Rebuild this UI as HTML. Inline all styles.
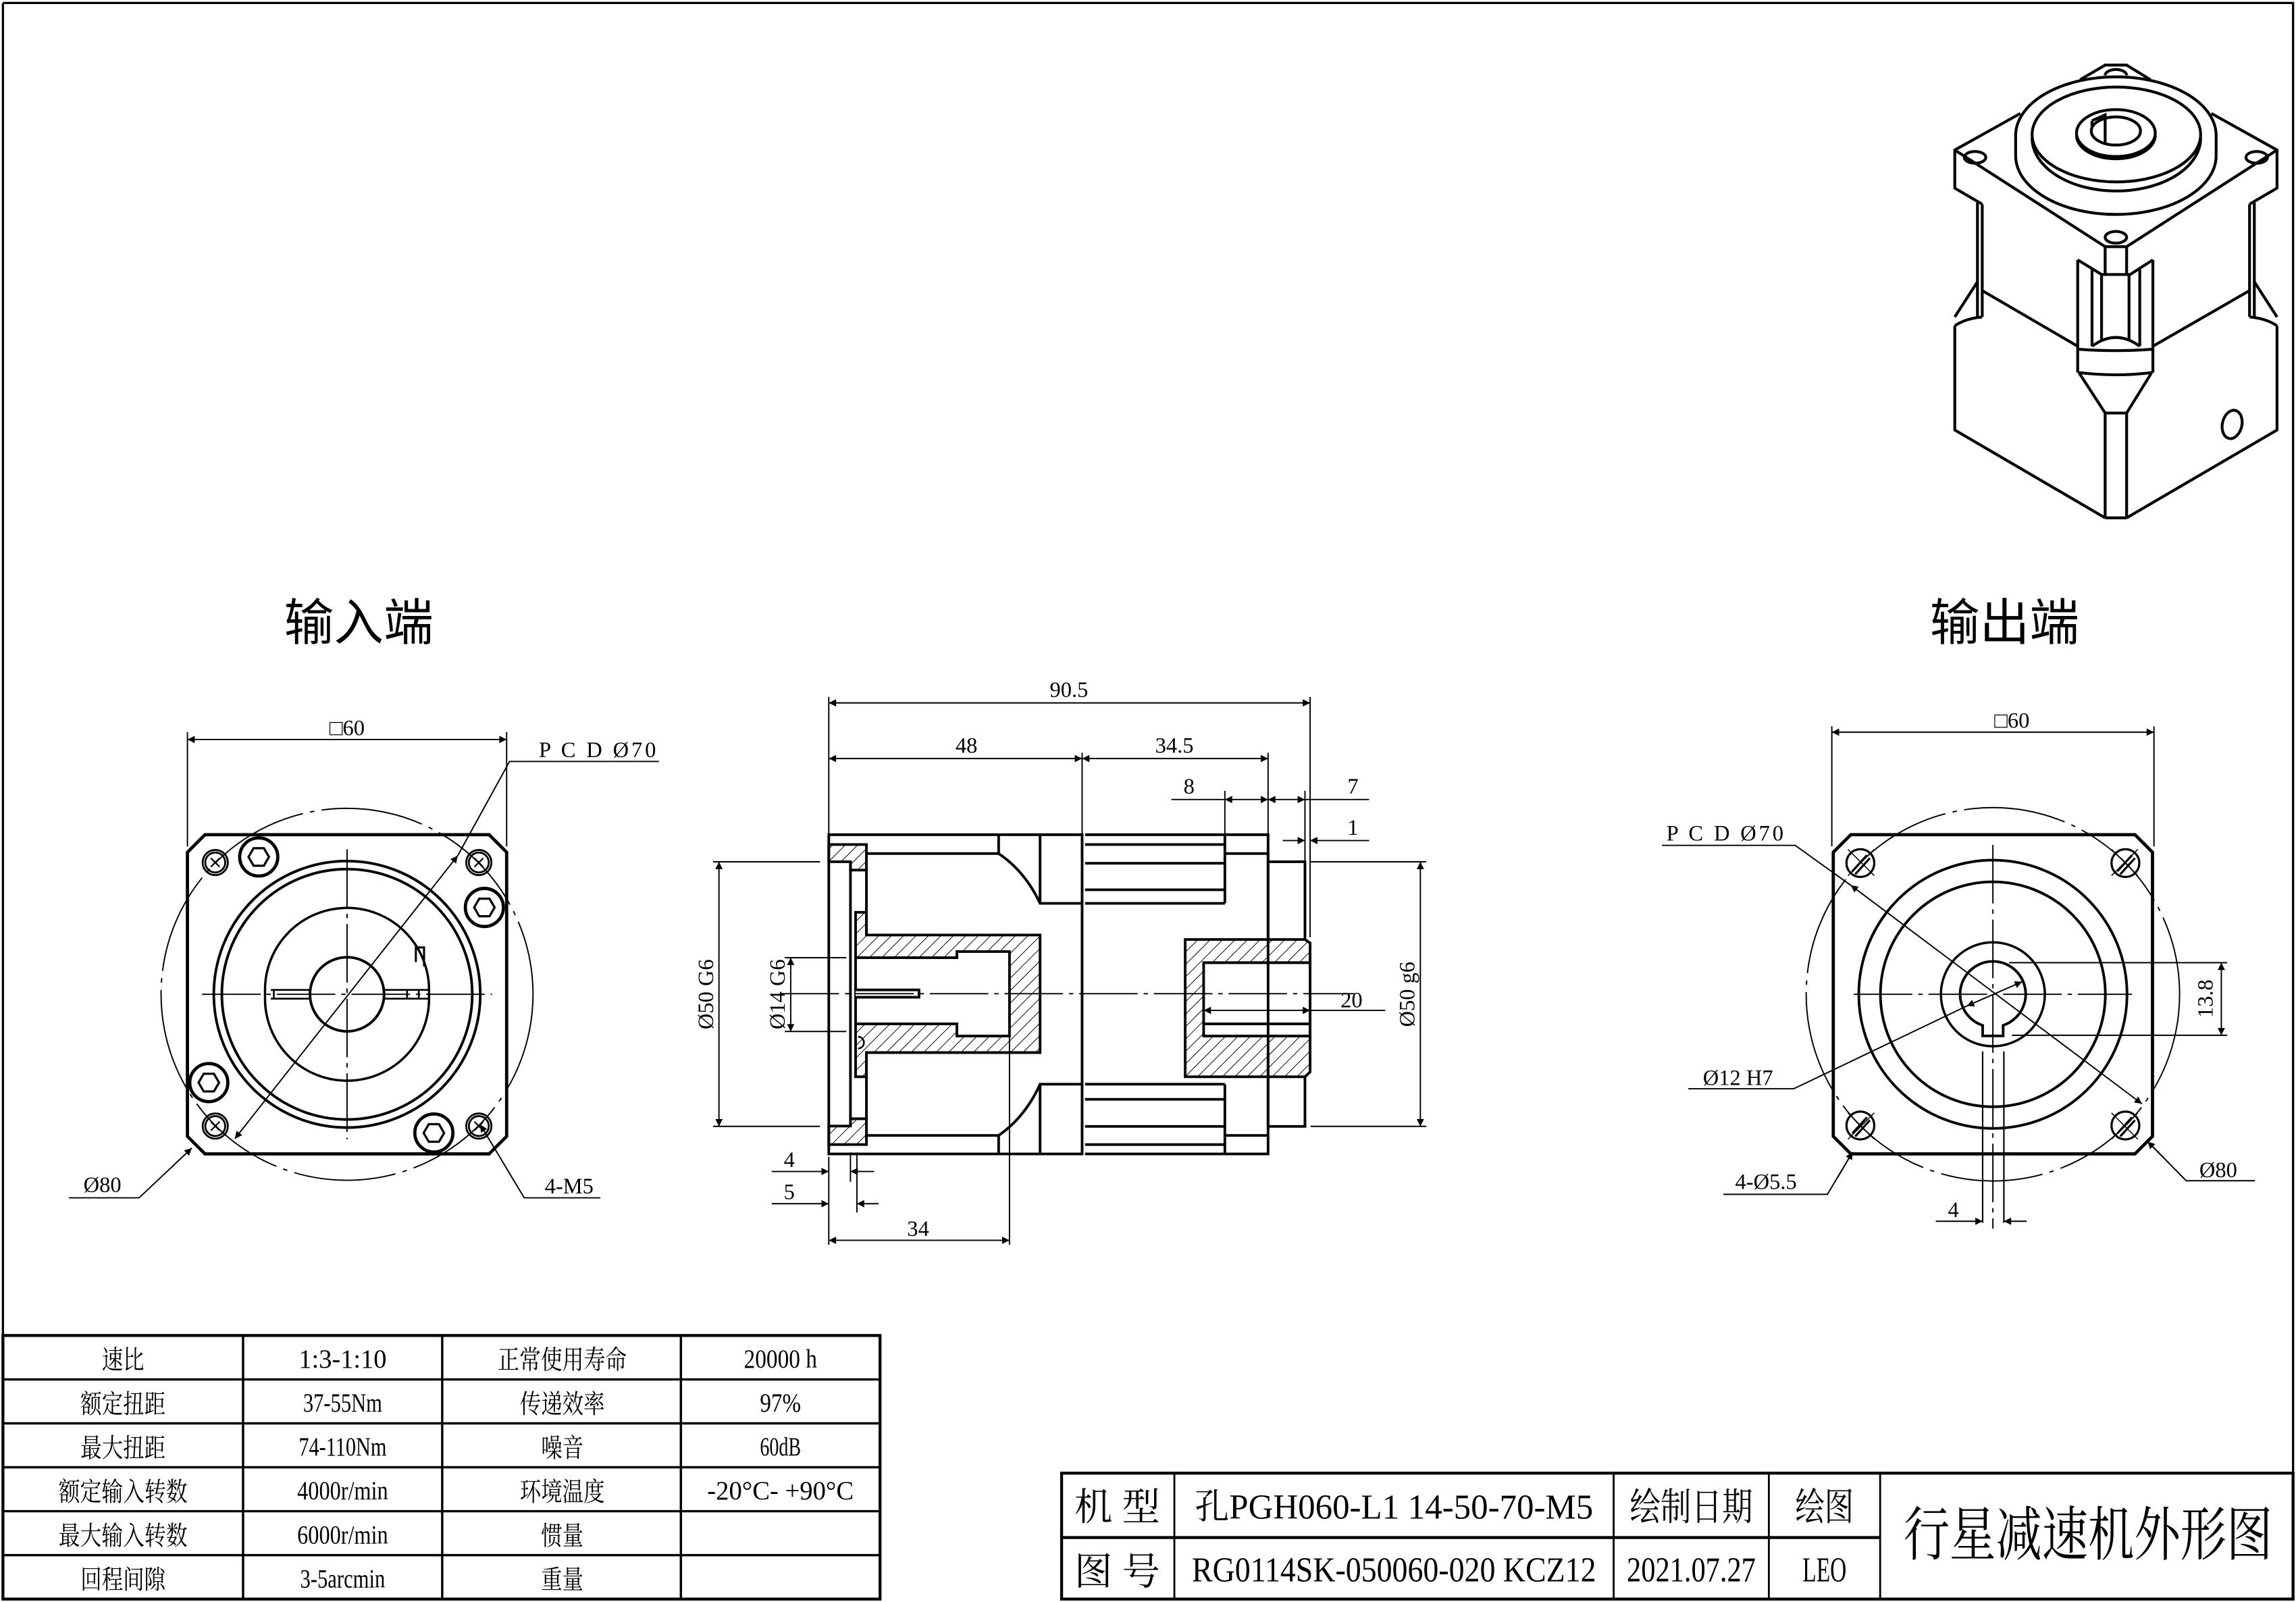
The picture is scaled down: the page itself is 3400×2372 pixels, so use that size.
<!DOCTYPE html>
<html><head><meta charset="utf-8"><style>
html,body{margin:0;padding:0;background:#fff;}
svg{display:block;}
text{font-family:"Liberation Serif","Noto Serif CJK SC","Noto Sans CJK SC",serif;fill:#000;}
.cn{font-family:"Liberation Sans","Noto Sans CJK SC",sans-serif;}
</style></head><body>
<svg width="3400" height="2372" viewBox="0 0 1568 1094" preserveAspectRatio="none" xmlns="http://www.w3.org/2000/svg">
<defs>
<marker id="a" viewBox="0 0 10 10" refX="10" refY="5" markerWidth="12" markerHeight="5" orient="auto-start-reverse" markerUnits="userSpaceOnUse"><path d="M0,0 L10,5 L0,10 z" fill="#000"/></marker>
<pattern id="h" width="6" height="6" patternUnits="userSpaceOnUse" patternTransform="rotate(45)"><line x1="0" y1="0" x2="0" y2="6" stroke="#000" stroke-width="0.9"/></pattern>
</defs>
<rect width="1568" height="1094" fill="#fff"/>
<polyline points="2,2 1566,2 1566,1092" fill="none" stroke="#000" stroke-width="1.5"/>
<line x1="2" y1="2" x2="2" y2="912" stroke="#000" stroke-width="1.5"/>

<!-- spec table -->
<g stroke="#000" fill="none">
<rect x="2" y="912" width="599" height="180" stroke-width="2"/>
<g stroke-width="1.6">
<line x1="2" y1="942" x2="601" y2="942"/><line x1="2" y1="972" x2="601" y2="972"/><line x1="2" y1="1002" x2="601" y2="1002"/><line x1="2" y1="1032" x2="601" y2="1032"/><line x1="2" y1="1062" x2="601" y2="1062"/>
<line x1="166" y1="912" x2="166" y2="1092"/><line x1="302" y1="912" x2="302" y2="1092"/><line x1="465" y1="912" x2="465" y2="1092"/>
</g></g>
<g class="cn" font-size="18" text-anchor="middle">
<text x="84" y="935" textLength="29" lengthAdjust="spacingAndGlyphs">速比</text>
<text x="84" y="965" textLength="58" lengthAdjust="spacingAndGlyphs">额定扭距</text>
<text x="84" y="995" textLength="58" lengthAdjust="spacingAndGlyphs">最大扭距</text>
<text x="84" y="1025" textLength="88" lengthAdjust="spacingAndGlyphs">额定输入转数</text>
<text x="84" y="1055" textLength="88" lengthAdjust="spacingAndGlyphs">最大输入转数</text>
<text x="84" y="1085" textLength="58" lengthAdjust="spacingAndGlyphs">回程间隙</text>
<text x="234" y="934" textLength="60" lengthAdjust="spacingAndGlyphs">1:3-1:10</text>
<text x="234" y="964" textLength="54" lengthAdjust="spacingAndGlyphs">37-55Nm</text>
<text x="234" y="994" textLength="60" lengthAdjust="spacingAndGlyphs">74-110Nm</text>
<text x="234" y="1024" textLength="62" lengthAdjust="spacingAndGlyphs">4000r/min</text>
<text x="234" y="1054" textLength="62" lengthAdjust="spacingAndGlyphs">6000r/min</text>
<text x="234" y="1084" textLength="58" lengthAdjust="spacingAndGlyphs">3-5arcmin</text>
<text x="384" y="935" textLength="88" lengthAdjust="spacingAndGlyphs">正常使用寿命</text>
<text x="384" y="965" textLength="58" lengthAdjust="spacingAndGlyphs">传递效率</text>
<text x="384" y="995" textLength="29" lengthAdjust="spacingAndGlyphs">噪音</text>
<text x="384" y="1025" textLength="58" lengthAdjust="spacingAndGlyphs">环境温度</text>
<text x="384" y="1055" textLength="29" lengthAdjust="spacingAndGlyphs">惯量</text>
<text x="384" y="1085" textLength="29" lengthAdjust="spacingAndGlyphs">重量</text>
<text x="533" y="934" textLength="50" lengthAdjust="spacingAndGlyphs">20000 h</text>
<text x="533" y="964" textLength="28" lengthAdjust="spacingAndGlyphs">97%</text>
<text x="533" y="994" textLength="28" lengthAdjust="spacingAndGlyphs">60dB</text>
<text x="533" y="1024" textLength="100" lengthAdjust="spacingAndGlyphs">-20°C- +90°C</text>
</g>

<!-- title block -->
<g stroke="#000" fill="none">
<rect x="725" y="1006" width="841" height="86" stroke-width="2"/>
<line x1="725" y1="1050" x2="1284" y2="1050" stroke-width="2"/>
<g stroke-width="1.3"><line x1="802" y1="1006" x2="802" y2="1092"/><line x1="1102" y1="1006" x2="1102" y2="1092"/><line x1="1208" y1="1006" x2="1208" y2="1092"/><line x1="1284" y1="1006" x2="1284" y2="1092"/></g>
</g>
<g class="cn" font-size="26" text-anchor="middle">
<text x="763" y="1038">机 型</text>
<text x="763" y="1082">图 号</text>
<text x="952" y="1037" font-size="24" textLength="272" lengthAdjust="spacingAndGlyphs">孔PGH060-L1 14-50-70-M5</text>
<text x="952" y="1080" font-size="24" textLength="276" lengthAdjust="spacingAndGlyphs">RG0114SK-050060-020 KCZ12</text>
<text x="1155" y="1038" textLength="84" lengthAdjust="spacingAndGlyphs">绘制日期</text>
<text x="1155" y="1080" font-size="24" textLength="88" lengthAdjust="spacingAndGlyphs">2021.07.27</text>
<text x="1246" y="1038" textLength="40" lengthAdjust="spacingAndGlyphs">绘图</text>
<text x="1246" y="1080" font-size="24" textLength="30" lengthAdjust="spacingAndGlyphs">LEO</text>
<text x="1426" y="1062" font-size="40" textLength="252" lengthAdjust="spacingAndGlyphs">行星减速机外形图</text>
</g>

<text class="cn" x="245" y="437" font-size="34" text-anchor="middle">输入端</text>
<text class="cn" x="1369" y="437" font-size="34" text-anchor="middle">输出端</text>

<!-- Left view -->
<g transform="translate(237,679)" fill="none" stroke="#000">
<path d="M-97,-109 H97 L109,-97 V97 L97,109 H-97 L-109,97 V-97 Z" stroke-width="2.2"/>
<circle r="127" stroke-width="0.9" stroke-dasharray="70 5 3 5"/>
<circle r="91" stroke-width="1.8"/><circle r="85.5" stroke-width="1.8"/>
<path d="M-56,-3 A56,56 0 0 1 56,-3 M-56,3 A56,56 0 0 0 56,3 M-56,-3 V3 M56,-3 V3" stroke-width="1.6"/>
<path d="M-52,-3 H-26 M-52,3 H-26 M26,-3 H56 M26,3 H56 M-50,-3 V3 M49,-3 V3 M41,-3 V3" stroke-width="1.2"/>
<path d="M47,-22 V-32 H52.6 V-19" stroke-width="1.4"/>
<circle r="25.3" stroke-width="1.8"/>
<line x1="-99" y1="0" x2="99" y2="0" stroke-width="0.9" stroke-dasharray="40 4 3 4"/>
<line x1="0" y1="-99" x2="0" y2="99" stroke-width="0.9" stroke-dasharray="40 4 3 4"/>
<g stroke-width="1.3">
<circle cx="-90" cy="-90" r="8.6"/><circle cx="90" cy="-90" r="8.6"/><circle cx="-90" cy="90" r="8.6"/><circle cx="90" cy="90" r="8.6"/>
<circle cx="-90" cy="-90" r="6.8"/><circle cx="90" cy="-90" r="6.8"/><circle cx="-90" cy="90" r="6.8"/><circle cx="90" cy="90" r="6.8"/>
<path d="M-93,-93 l6,6 M-87,-93 l-6,6 M87,-93 l6,6 M93,-93 l-6,6 M-93,87 l6,6 M-87,87 l-6,6 M87,87 l6,6 M93,87 l-6,6" stroke-width="1"/>
</g>
<g stroke-width="2.2">
<circle cx="-60.3" cy="-93.8" r="13"/><circle cx="93.8" cy="-59.3" r="13"/><circle cx="-94.4" cy="60.3" r="13"/><circle cx="59.3" cy="94.7" r="13"/>
</g>
<g stroke-width="1.5">
<polygon points="-53.3,-93.8 -56.8,-99.8 -63.8,-99.8 -67.3,-93.8 -63.8,-87.8 -56.8,-87.8"/>
<polygon points="100.8,-59.3 97.3,-65.3 90.3,-65.3 86.8,-59.3 90.3,-53.3 97.3,-53.3"/>
<polygon points="-87.4,60.3 -90.9,54.3 -97.9,54.3 -101.4,60.3 -97.9,66.3 -90.9,66.3"/>
<polygon points="66.3,94.7 62.8,88.7 55.8,88.7 52.3,94.7 55.8,100.7 62.8,100.7"/>
</g>
</g>
<g fill="none" stroke="#000" stroke-width="0.9">
<line x1="128" y1="500" x2="128" y2="578"/><line x1="346" y1="500" x2="346" y2="578"/>
<line x1="128" y1="505" x2="346" y2="505" marker-start="url(#a)" marker-end="url(#a)"/>
<line x1="160.4" y1="777.6" x2="312.6" y2="584.3" marker-start="url(#a)" marker-end="url(#a)"/>
<polyline points="312.6,584.3 348,520 450,520"/>
<polyline points="131,784 95,818 47,818" marker-start="url(#a)"/>
<polyline points="328,768 358,818 410,818" marker-start="url(#a)"/>
</g>
<g font-size="15">
<text x="237" y="502" text-anchor="middle">□60</text>
<text x="368" y="517" textLength="80" lengthAdjust="spacing">P C D Ø70</text>
<text x="57" y="814">Ø80</text>
<text x="372" y="815">4-M5</text>
</g>

<!-- Middle section -->
<g fill="none" stroke="#000" stroke-width="1.8">
<path d="M566,576.7 H591.7 V594.2 H580.8 V588.5 H566 Z" fill="url(#h)"/>
<path d="M566,769 H580.8 V764 H591.7 V781.6 H566 Z" fill="url(#h)"/>
<path fill="url(#h)" fill-rule="evenodd" d="M584.3,623 H591.7 V638.5 H710.3 V718.8 H591.7 V735.3 H584.3 Z M584.3,654 H653.5 V649.8 H689.4 V707.5 H653.5 V699.2 H584.3 Z"/>
<path fill="url(#h)" fill-rule="evenodd" d="M809.4,641.6 H891.2 L894.7,644 V732 L891.2,735.3 H809.4 Z M822,657.4 H894.7 V707.5 H822 Z"/>
<path d="M566,570 H739 V788 H566 Z"/>
<path d="M741,570 H866 V788 H741"/>
<line x1="580.8" y1="588.5" x2="580.8" y2="764"/>
<path d="M591.7,582.9 H682 Q700,595 710.3,616.9 H739"/>
<path d="M591.7,775.4 H682 Q700,763 710.3,740.4 H739"/>
<line x1="682" y1="570" x2="682" y2="582.9"/><line x1="710.3" y1="570" x2="710.3" y2="616.9"/>
<line x1="682" y1="775.4" x2="682" y2="788"/><line x1="710.3" y1="740.4" x2="710.3" y2="788"/>
<line x1="591.7" y1="594.2" x2="591.7" y2="638.5"/><line x1="591.7" y1="718.8" x2="591.7" y2="764"/>
<path d="M584.3,676 H627.6 V681 H584.3" fill="#fff"/>
<path d="M741,576.7 H836.5 M741,589.5 H836.5 M741,607.6 H836.5 M741,616.9 H836.5 M836.5,570 V616.9 M836.5,582.9 H866"/>
<path d="M741,740.4 H836.5 M741,750.7 H836.5 M741,769.2 H836.5 M741,781.6 H836.5 M836.5,740.4 V788 M836.5,775.4 H866"/>
<path d="M866,588.5 H891.2 V641.6 M866,582.9 V641.6"/>
<path d="M866,769.2 H891.2 V735.3 M866,718.8 V769.2"/>
<line x1="822" y1="699.2" x2="894.7" y2="699.2"/>
<path d="M586,708 A4,4 0 0 1 586,716" stroke-width="1.2"/>
</g>
<g fill="none" stroke="#000" stroke-width="0.9">
<line x1="533" y1="678.6" x2="925" y2="678.6" stroke-dasharray="40 4 3 4"/>
<line x1="566" y1="476" x2="566" y2="570"/><line x1="894.7" y1="476" x2="894.7" y2="640"/>
<line x1="566" y1="480" x2="894.7" y2="480" marker-start="url(#a)" marker-end="url(#a)"/>
<line x1="739" y1="514" x2="739" y2="570"/><line x1="866" y1="514" x2="866" y2="570"/>
<line x1="566" y1="518" x2="739" y2="518" marker-start="url(#a)" marker-end="url(#a)"/>
<line x1="739" y1="518" x2="866" y2="518" marker-start="url(#a)" marker-end="url(#a)"/>
<line x1="836.5" y1="540" x2="836.5" y2="570"/><line x1="891.2" y1="540" x2="891.2" y2="640"/>
<line x1="800" y1="546" x2="836.5" y2="546"/>
<line x1="836.5" y1="546" x2="866" y2="546" marker-start="url(#a)" marker-end="url(#a)"/>
<line x1="866" y1="546" x2="891.2" y2="546" marker-start="url(#a)" marker-end="url(#a)"/>
<line x1="891.2" y1="546" x2="935" y2="546"/>
<line x1="876" y1="574" x2="891.2" y2="574" marker-end="url(#a)"/>
<line x1="935" y1="574" x2="894.7" y2="574" marker-end="url(#a)"/>
<line x1="487" y1="588.5" x2="560" y2="588.5"/><line x1="487" y1="769.2" x2="560" y2="769.2"/>
<line x1="491" y1="588.5" x2="491" y2="769.2" marker-start="url(#a)" marker-end="url(#a)"/>
<line x1="536" y1="654" x2="578" y2="654"/><line x1="536" y1="704.4" x2="578" y2="704.4"/>
<line x1="540" y1="654" x2="540" y2="704.4" marker-start="url(#a)" marker-end="url(#a)"/>
<line x1="895" y1="588.5" x2="974" y2="588.5"/><line x1="895" y1="769.2" x2="974" y2="769.2"/>
<line x1="970" y1="588.5" x2="970" y2="769.2" marker-start="url(#a)" marker-end="url(#a)"/>
<line x1="822" y1="690" x2="894.7" y2="690" marker-start="url(#a)" marker-end="url(#a)"/>
<line x1="894.7" y1="690" x2="946" y2="690"/>
<line x1="566" y1="790" x2="566" y2="850"/><line x1="580.8" y1="787" x2="580.8" y2="807"/><line x1="585.2" y1="787" x2="585.2" y2="828"/>
<line x1="689.4" y1="707" x2="689.4" y2="850"/>
<line x1="527" y1="800" x2="566" y2="800" marker-end="url(#a)"/><line x1="597" y1="800" x2="580.8" y2="800" marker-end="url(#a)"/>
<line x1="527" y1="822" x2="566" y2="822" marker-end="url(#a)"/><line x1="600" y1="822" x2="585.2" y2="822" marker-end="url(#a)"/>
<line x1="566" y1="847" x2="689.4" y2="847" marker-start="url(#a)" marker-end="url(#a)"/>
</g>
<g font-size="15" text-anchor="middle">
<text x="730" y="476">90.5</text>
<text x="660" y="514">48</text>
<text x="802" y="514">34.5</text>
<text x="812" y="542">8</text>
<text x="924" y="542">7</text>
<text x="924" y="570">1</text>
<text x="923" y="688">20</text>
<text x="539" y="797">4</text>
<text x="539" y="819">5</text>
<text x="627" y="844">34</text>
<text transform="translate(487,679) rotate(-90)">Ø50 G6</text>
<text transform="translate(536,679) rotate(-90)">Ø14 G6</text>
<text transform="translate(966,679) rotate(-90)">Ø50 g6</text>
</g>

<!-- Right view -->
<g transform="translate(1361,679)" fill="none" stroke="#000">
<path d="M-97,-109 H97 L109,-97 V97 L97,109 H-97 L-109,97 V-97 Z" stroke-width="2.2"/>
<circle r="127.5" stroke-width="0.9" stroke-dasharray="70 5 3 5"/>
<circle r="91.6" stroke-width="1.8"/><circle r="76.8" stroke-width="1.8"/>
<circle r="35.5" stroke-width="1.6"/>
<path d="M-7,21.2 A22.4,22.4 0 1 1 7,21.2 V28.4 H-7 Z" stroke-width="1.8"/>
<line x1="-7" y1="39" x2="-7" y2="156" stroke-width="1"/><line x1="7.5" y1="39" x2="7.5" y2="156" stroke-width="1"/>
<line x1="-95" y1="0" x2="95" y2="0" stroke-width="0.9" stroke-dasharray="40 4 3 4"/>
<line x1="0" y1="-102" x2="0" y2="160" stroke-width="0.9" stroke-dasharray="40 4 3 4"/>
<g stroke-width="1.5">
<circle cx="-90.5" cy="-89.6" r="9.5"/><circle cx="90.5" cy="-89.6" r="9.5"/><circle cx="-90.5" cy="89.6" r="9.5"/><circle cx="90.5" cy="89.6" r="9.5"/>
<path d="M-96,-84 l10,-11 M-94,-82 l10,-11 M85,-84 l10,-11 M87,-82 l10,-11 M-96,95 l10,-11 M-94,97 l10,-11 M85,95 l10,-11 M87,97 l10,-11"/>
</g>
<path d="M-99,-99 l18,18 M81,-99 l18,18 M-99,81 l18,18 M81,81 l18,18 M-81,-99 l-18,18 M99,-99 l-18,18 M-81,81 l-18,18 M99,81 l-18,18" stroke-width="0.7"/>
</g>
<g fill="none" stroke="#000" stroke-width="0.9">
<line x1="1251" y1="496" x2="1251" y2="578"/><line x1="1471" y1="496" x2="1471" y2="578"/>
<line x1="1251" y1="500" x2="1471" y2="500" marker-start="url(#a)" marker-end="url(#a)"/>
<polyline points="1135,577.3 1226,577.3 1263.9,604.5"/>
<line x1="1263.9" y1="604.5" x2="1462.8" y2="753.8" marker-start="url(#a)" marker-end="url(#a)"/>
<polyline points="1153,743.5 1225,743.5 1343.2,687"/>
<line x1="1343.2" y1="687" x2="1381" y2="670.4" marker-start="url(#a)" marker-end="url(#a)"/>
<polyline points="1177,815.6 1248,815.6 1265.2,786.7"/>
<line x1="1255" y1="804" x2="1265.2" y2="786.7" marker-end="url(#a)"/>
<polyline points="1540,806.3 1493,806.3 1466.6,779.5"/>
<line x1="1478" y1="791" x2="1466.6" y2="779.5" marker-end="url(#a)"/>
<line x1="1372" y1="657.4" x2="1521" y2="657.4"/><line x1="1374" y1="707" x2="1521" y2="707"/>
<line x1="1517" y1="657.4" x2="1517" y2="707" marker-start="url(#a)" marker-end="url(#a)"/>
<line x1="1322" y1="834" x2="1354" y2="834" marker-end="url(#a)"/><line x1="1384" y1="834" x2="1368.5" y2="834" marker-end="url(#a)"/>
</g>
<g font-size="15">
<text x="1374" y="497" text-anchor="middle">□60</text>
<text x="1138" y="574" textLength="80" lengthAdjust="spacing">P C D Ø70</text>
<text x="1163" y="741">Ø12 H7</text>
<text x="1185" y="812">4-Ø5.5</text>
<text x="1502" y="804">Ø80</text>
<text x="1334" y="831" text-anchor="middle">4</text>
<text transform="translate(1511,682) rotate(-90)" text-anchor="middle">13.8</text>
</g>

<!-- Isometric view -->
<g transform="matrix(0.163 0 0 0.2 1314.6 18.45)" fill="none" stroke="#000" stroke-width="4.2">
<path vector-effect="non-scaling-stroke" d="M650,180 L755,130 H845 L945,180"/>
<path vector-effect="non-scaling-stroke" d="M400,295 L125,420 V550 L240,605 M125,420 L755,750 M1475,420 L845,750 M1200,295 L1475,420 V550 L1360,605"/>
<path vector-effect="non-scaling-stroke" d="M755,750 H845 V845 M755,750 V845"/>
<path vector-effect="non-scaling-stroke" d="M240,605 V990 M1360,605 V990 M220,600 V990 M1380,600 V990"/>
<path vector-effect="non-scaling-stroke" d="M125,990 L220,870 M1475,990 L1380,870 M125,1020 Q170,995 240,990 M1475,1020 Q1430,995 1360,990"/>
<path vector-effect="non-scaling-stroke" d="M240,900 L640,1090 M1360,900 L955,1090"/>
<path vector-effect="non-scaling-stroke" d="M640,795 V1180 M955,795 V1180 M700,825 V1090 M740,845 V1070 M855,845 V1070 M900,825 V1090 M640,795 L740,845 H860 L955,795 M640,1100 Q800,1110 955,1100 M645,1180 Q800,1195 950,1180 M700,1090 Q800,1030 900,1090"/>
<path vector-effect="non-scaling-stroke" d="M645,1180 L755,1318 V1676 M950,1180 L845,1318 V1676 M755,1318 H845 M755,1676 H845"/>
<path vector-effect="non-scaling-stroke" d="M125,1020 V1376 L755,1676 M1475,1020 V1376 L845,1676"/>
<ellipse vector-effect="non-scaling-stroke" cx="1287" cy="1357" rx="40" ry="50" transform="rotate(25 1287 1357)"/>
<path vector-effect="non-scaling-stroke" d="M380,370 A420,200 0 0 1 1220,370 M380,370 V440 A420,200 0 0 0 1220,440 V370" fill="#fff"/>
<ellipse vector-effect="non-scaling-stroke" cx="802" cy="367" rx="353" ry="162"/>
<path vector-effect="non-scaling-stroke" d="M449,380 A353,180 0 0 0 1155,380"/>
<ellipse vector-effect="non-scaling-stroke" cx="800" cy="362" rx="165" ry="80"/>
<path vector-effect="non-scaling-stroke" d="M635,370 A165,80 0 0 0 965,370"/>
<ellipse vector-effect="non-scaling-stroke" cx="800" cy="355" rx="103" ry="48"/>
<path vector-effect="non-scaling-stroke" d="M700,320 L755,300 V400 M700,345 V320"/>
<ellipse vector-effect="non-scaling-stroke" cx="210" cy="445" rx="45" ry="20"/>
<ellipse vector-effect="non-scaling-stroke" cx="1390" cy="445" rx="45" ry="20"/>
<ellipse vector-effect="non-scaling-stroke" cx="800" cy="718" rx="45" ry="20"/>
<path vector-effect="non-scaling-stroke" d="M755,165 A45,20 0 0 1 845,165"/>
</g>
</svg>
</body></html>
